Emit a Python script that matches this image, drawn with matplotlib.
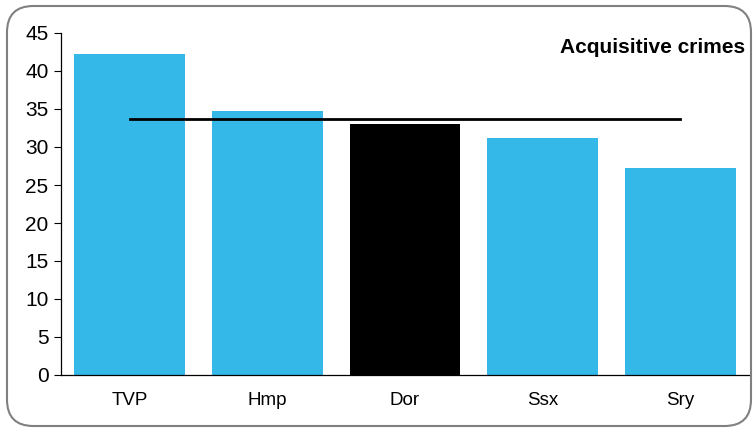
import numpy as np
import matplotlib.pyplot as plt
from matplotlib.patches import FancyBboxPatch

forces = ['TVP', 'Hmp', 'Dor', 'Ssx', 'Sry']
values = [42.2, 34.7, 33.0, 31.2, 27.2]
average = 33.7
highlight = 'Dor'

plt.rcParams['font.family'] = ['Liberation Sans', 'DejaVu Sans']

fig = plt.figure(figsize=(7.55, 4.29), dpi=100)
ax = fig.add_axes([61/755, 1 - 375/429, 688/755, 342/429])

x = np.arange(len(forces))
colors = ['black' if f == highlight else '#33b8e8' for f in forces]
ax.bar(x, values, width=0.806, color=colors, zorder=2)
ax.plot([x[0], x[-1]], [average, average], color='black', lw=2, zorder=3)

ax.set_xlim(-0.5, len(forces) - 0.5)
ax.set_ylim(0, 45)
ax.set_yticks(range(0, 46, 5))
ax.set_xticks(x)
ax.set_xticklabels(forces)
ax.tick_params(axis='y', labelsize=15, length=5, width=0.8, pad=4)
ax.tick_params(axis='x', labelsize=13.5, length=0, pad=12)
for s in ['top', 'right']:
    ax.spines[s].set_visible(False)
for s in ['left', 'bottom']:
    ax.spines[s].set_linewidth(0.9)

ax.text(0.995, 0.985, 'Acquisitive crimes', transform=ax.transAxes,
        ha='right', va='top', fontsize=15, fontweight='bold')

border = FancyBboxPatch((7/755, 3/429), 744/755, 420/429,
                        boxstyle='round,pad=0,rounding_size=0.035',
                        transform=fig.transFigure, facecolor='none',
                        edgecolor='#808080', lw=1.5, mutation_aspect=755/429)
fig.patches.append(border)

fig.savefig('out.png', dpi=100)
